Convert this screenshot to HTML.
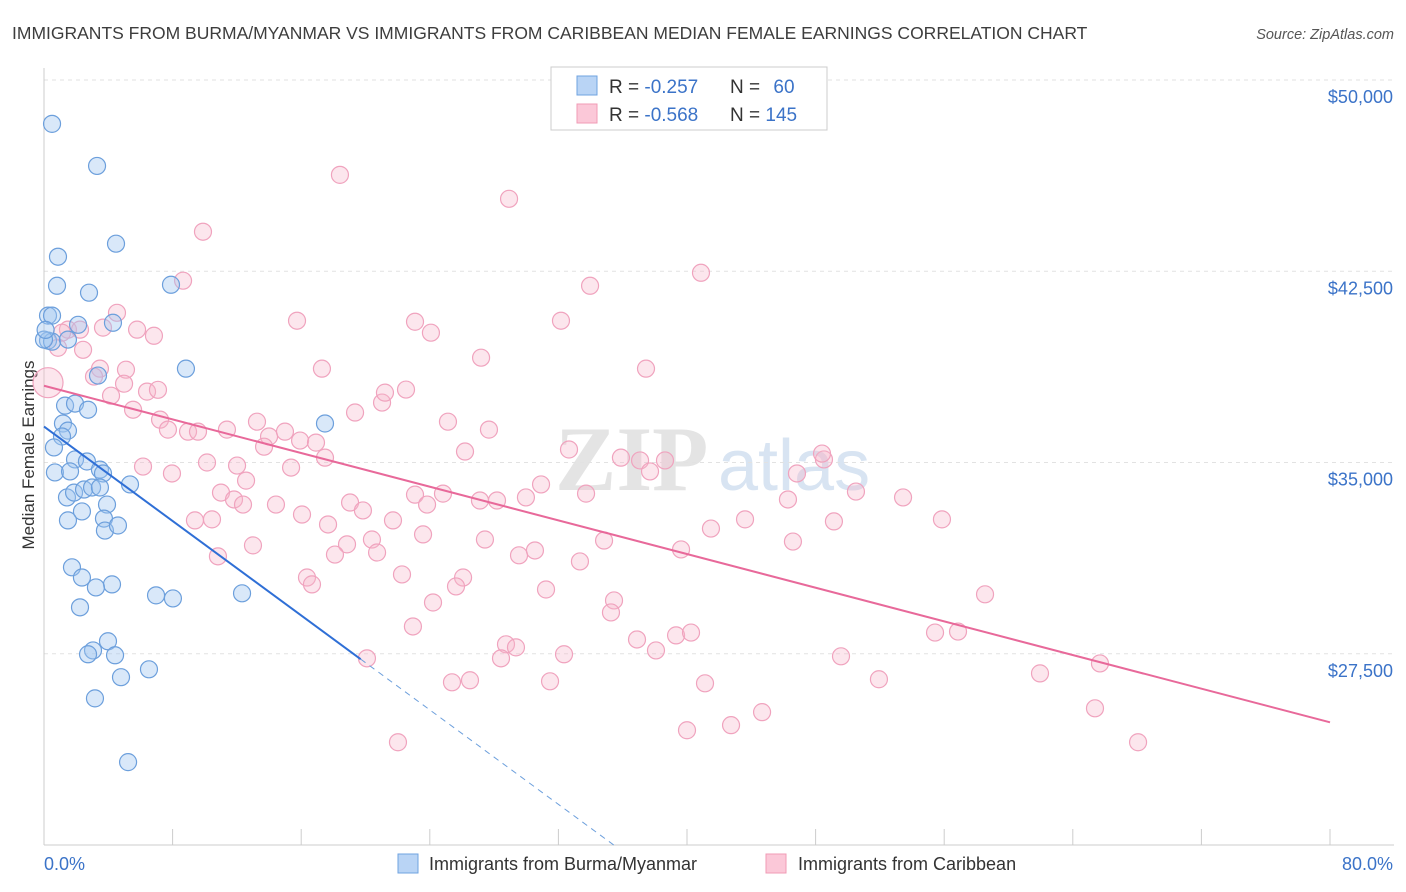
<!DOCTYPE html>
<html><head><meta charset="utf-8">
<style>
body{margin:0;background:#fff;font-family:"Liberation Sans",sans-serif;}
svg{display:block}
</style></head>
<body>
<svg id="chart" width="1406" height="892">
<text x="12" y="39" font-size="17.5" fill="#3d3d3d">IMMIGRANTS FROM BURMA/MYANMAR VS IMMIGRANTS FROM CARIBBEAN MEDIAN FEMALE EARNINGS CORRELATION CHART</text>
<text x="1394" y="39" font-size="14.5" fill="#555" font-style="italic" text-anchor="end">Source: ZipAtlas.com</text>
<g><text x="555" y="490" font-size="92" fill="#e4e4e4" font-family="Liberation Serif,serif" font-weight="bold">ZIP</text><text x="718" y="490" font-size="72" fill="#d8e4f2">atlas</text></g>
<text transform="translate(34,455) rotate(-90)" font-size="17" fill="#333" text-anchor="middle">Median Female Earnings</text>
<g id="grid"></g><g id="axes"></g><g id="pts"></g><g id="lines"></g>
<g>
<rect x="551" y="67" width="276" height="63" fill="#fff" stroke="#ccc"/>
<rect x="577" y="76" width="20" height="19" fill="#b9d4f5" stroke="#6fa3e0"/>
<rect x="577" y="104" width="20" height="19" fill="#fbc8d8" stroke="#f09bb6"/>
<text x="609" y="93" font-size="19" fill="#333">R = <tspan fill="#3b73c8">-0.257</tspan></text>
<text x="730" y="93" font-size="19" fill="#333">N = <tspan fill="#3b73c8" dx="8">60</tspan></text>
<text x="609" y="121" font-size="19" fill="#333">R = <tspan fill="#3b73c8">-0.568</tspan></text>
<text x="730" y="121" font-size="19" fill="#333">N = <tspan fill="#3b73c8">145</tspan></text>
</g>
<g>
<rect x="398" y="854" width="20" height="19" fill="#b9d4f5" stroke="#6fa3e0"/>
<text x="429" y="870" font-size="18" fill="#333">Immigrants from Burma/Myanmar</text>
<rect x="766" y="854" width="20" height="19" fill="#fbc8d8" stroke="#f09bb6"/>
<text x="798" y="870" font-size="18" fill="#333">Immigrants from Caribbean</text>
</g>
</svg>
<script>
const xTickLabels=["0.0%","80.0%"];
const yTicks=[50000,42500,35000,27500];
const yTickLabels=["$50,000","$42,500","$35,000","$27,500"];
const blueX=[0.5,3.3,0.87,4.48,0.81,2.8,7.9,0.25,0.5,2.12,4.29,0.25,0.5,1.49,8.83,3.36,1.31,1.93,2.74,1.18,1.49,1.12,17.48,0.62,1.93,2.67,3.48,3.67,0.68,1.62,5.35,1.43,1.87,2.49,2.99,3.48,2.36,3.92,1.49,3.73,3.79,4.6,1.74,2.36,4.23,3.23,2.24,6.97,8.02,12.32,3.98,3.05,2.74,4.42,6.53,4.79,3.17,5.23,0,0.1];
const blueY=[48.28,46.63,43.07,43.58,41.93,41.66,41.97,40.76,40.76,40.4,40.48,39.78,39.74,39.82,38.68,38.41,37.23,37.31,37.07,36.53,36.25,36.02,36.53,35.59,35.12,35.04,34.72,34.57,34.61,34.65,34.14,33.63,33.82,33.94,34.02,34.02,33.08,33.35,32.73,32.8,32.33,32.53,30.89,30.49,30.22,30.1,29.32,29.79,29.67,29.87,27.99,27.63,27.48,27.44,26.89,26.58,25.75,23.25,39.82,40.2];
const pinkX=[18.41,28.93,9.89,8.65,40.87,33.97,4.54,1.49,1.12,0.87,2.24,3.67,5.79,6.84,15.74,23.08,24.07,32.16,2.43,3.48,5.1,3.11,4.98,4.17,6.41,7.09,17.29,27.19,37.45,0.25,5.54,7.22,7.71,8.96,9.58,11.38,13.25,14,14.99,15.93,13.69,12.01,10.14,7.96,6.16,12.57,15.37,16.92,17.48,19.35,21.03,21.21,22.52,25.13,27.68,26.19,32.66,35.89,37.08,38.63,37.7,46.84,48.52,50.51,53.44,48.4,11.01,11.82,12.38,14.43,16.05,10.45,9.39,19.04,19.84,21.71,23.08,23.83,24.82,27.12,28.18,29.98,30.92,33.72,17.67,18.85,20.4,20.72,18.1,23.58,27.43,29.55,30.54,33.34,34.84,39.63,41.49,43.61,46.28,49.14,46.59,55.86,13,10.82,16.36,16.67,22.27,24.2,26.07,25.63,31.23,35.46,35.27,22.95,28.74,29.36,28.43,32.35,36.89,38.07,39.32,40.25,49.58,55.43,56.86,58.54,20.09,25.38,26.5,31.48,41.12,51.94,61.96,65.69,40,42.74,44.67,65.38,68.06,22.02];
const pinkY=[46.28,45.34,44.05,42.13,42.44,41.93,40.87,40.21,40.09,39.5,40.21,40.29,40.21,39.97,40.56,40.52,40.09,40.56,39.42,38.68,38.64,38.37,38.09,37.62,37.78,37.85,38.68,39.11,38.68,38.13,37.07,36.68,36.29,36.21,36.21,36.29,36.6,36.02,36.21,35.86,35.62,34.88,35,34.57,34.84,34.29,34.8,35.78,35.19,36.96,37.35,37.74,37.86,36.6,36.29,35.43,35.51,35.19,35.08,35.08,34.65,34.57,35.12,33.86,33.63,35.35,33.82,33.55,33.35,33.35,32.96,32.77,32.73,33.43,33.12,32.73,33.74,33.35,33.78,33.51,33.51,33.63,34.14,33.78,32.57,31.79,31.98,31.47,31.39,32.18,31.98,31.36,31.55,31.12,31.94,31.59,32.41,32.77,33.55,32.69,31.9,32.77,31.75,31.32,30.49,30.22,30.61,29.51,30.49,30.14,30.02,29.59,29.12,28.57,27.87,27.75,27.32,27.48,28.06,27.63,28.22,28.33,27.4,28.33,28.37,29.83,27.32,26.38,26.46,26.42,26.34,26.5,26.73,27.12,24.5,24.7,25.21,25.36,24.03,24.03];
const blueTrend=[36.41,-0.463];
const pinkTrend=[38.01,-0.165];
const NS="http://www.w3.org/2000/svg";
const X0=44,X1=1330,Y0=845,Y1=80,XMAX=80,YMIN=20000,YMAX=50000;
const sx=v=>X0+v/XMAX*(X1-X0);
const sy=v=>Y0-(v-YMIN)/(YMAX-YMIN)*(Y0-Y1);
function mk(tag,attrs,parent){const e=document.createElementNS(NS,tag);for(const k in attrs)e.setAttribute(k,attrs[k]);parent.appendChild(e);return e;}
const grid=document.getElementById('grid'),axes=document.getElementById('axes'),pts=document.getElementById('pts'),lines=document.getElementById('lines');
yTicks.forEach((t,i)=>{
 const g=mk('line',{x1:X0,x2:1394,y1:sy(t),y2:sy(t),stroke:'#e2e2e2','stroke-dasharray':'4,4'},grid);
 
 
 const l=mk('text',{x:1393,y:sy(t)+23,'font-size':18,fill:'#3b73c8','text-anchor':'end'},axes);
 l.textContent=yTickLabels[i];
 
 
});
const ax=mk('line',{x1:X0,x2:1394,y1:Y0,y2:Y0,stroke:'#ccc'},axes);


const ay=mk('line',{x1:X0,x2:X0,y1:68,y2:Y0,stroke:'#ccc'},axes);


for(let v=0;v<=80;v+=8){
 const t=mk('line',{x1:sx(v),x2:sx(v),y1:Y0,y2:Y0-16,stroke:'#ccc'},axes);
 
 
}
const xl0=mk('text',{x:44,y:870,'font-size':18,fill:'#3b73c8'},axes);xl0.textContent=xTickLabels[0];


const xl1=mk('text',{x:1393,y:870,'font-size':18,fill:'#3b73c8','text-anchor':'end'},axes);xl1.textContent=xTickLabels[1];


pinkX.forEach((x,i)=>{
 const c=mk('circle',{cx:sx(x),cy:sy(pinkY[i]*1000),r:(i==29?15:8.5),fill:'rgba(246,182,204,0.35)',stroke:'#f0a3be','stroke-width':1.2},pts);
 
 
});
blueX.forEach((x,i)=>{
 const c=mk('circle',{cx:sx(x),cy:sy(blueY[i]*1000),r:8.5,fill:'rgba(160,198,240,0.4)',stroke:'#6c9fdc','stroke-width':1.2},pts);
 
 
});
const bf=x=>(blueTrend[0]+blueTrend[1]*x)*1000;
const pf=x=>(pinkTrend[0]+pinkTrend[1]*x)*1000;
const bs=mk('line',{x1:sx(0),y1:sy(bf(0)),x2:sx(19.7),y2:sy(bf(19.7)),stroke:'#2f6fd6','stroke-width':2},lines);


const xEnd=(20-blueTrend[0])/blueTrend[1];
const bd=mk('line',{x1:sx(19.7),y1:sy(bf(19.7)),x2:sx(xEnd),y2:sy(bf(xEnd)),stroke:'#6c9fdc','stroke-width':1,'stroke-dasharray':'6,5'},lines);


const pl=mk('line',{x1:sx(0),y1:sy(pf(0)),x2:sx(80),y2:sy(pf(80)),stroke:'#e8699a','stroke-width':2},lines);


</script>
</body></html>
